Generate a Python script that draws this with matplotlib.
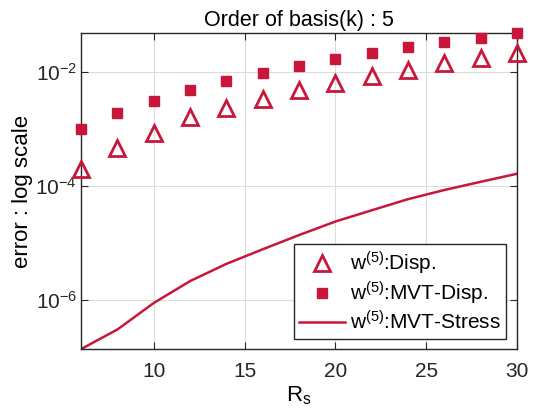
import numpy as np
import matplotlib
matplotlib.use('Agg')
import matplotlib.pyplot as plt
from matplotlib import ticker

plt.rcParams['font.family'] = ['Liberation Sans', 'DejaVu Sans']
plt.rcParams['mathtext.fontset'] = 'custom'
plt.rcParams['mathtext.rm'] = 'Liberation Sans'
plt.rcParams['mathtext.it'] = 'Liberation Sans'

# data
rs = [6, 8, 10, 12, 14, 16, 18, 20, 22, 24, 26, 28, 30]
disp_err = [2.0e-4, 4.5e-4, 8.5e-4, 1.6e-3, 2.3e-3, 3.3e-3, 4.7e-3,
            6.3e-3, 8.3e-3, 1.07e-2, 1.4e-2, 1.73e-2, 2.12e-2]
mvt_disp_err = [1.0e-3, 1.86e-3, 3.06e-3, 4.77e-3, 6.86e-3, 9.5e-3, 1.27e-2,
                1.69e-2, 2.13e-2, 2.67e-2, 3.27e-2, 3.94e-2, 4.77e-2]
mvt_stress_err = [1.36e-7, 3.0e-7, 8.75e-7, 2.12e-6, 4.25e-6, 7.66e-6, 1.36e-5,
                  2.35e-5, 3.7e-5, 5.8e-5, 8.4e-5, 1.17e-4, 1.62e-4]

red = '#C8173A'

fig = plt.figure(figsize=(5.34, 4.19), dpi=100)
ax = fig.add_axes([0.152, 0.167, 0.816, 0.754])

ax.plot(rs, disp_err, linestyle='none', marker='^', markersize=11,
        markerfacecolor='none', markeredgecolor=red, markeredgewidth=2,
        label=r'w$^{(5)}$:Disp.', clip_on=False, zorder=3)
ax.plot(rs, mvt_disp_err, linestyle='none', marker='s', markersize=7,
        color=red, label=r'w$^{(5)}$:MVT-Disp.', clip_on=False, zorder=3)
ax.plot(rs, mvt_stress_err, '-', color=red, linewidth=1.8,
        label=r'w$^{(5)}$:MVT-Stress')

ax.set_yscale('log')
ax.set_xlim(6, 30)
ax.set_ylim(min(mvt_stress_err), max(mvt_disp_err))
ax.set_xticks([10, 15, 20, 25, 30])
ax.set_yticks([1e-6, 1e-4, 1e-2])
ax.yaxis.set_minor_locator(ticker.NullLocator())
ax.yaxis.set_major_formatter(ticker.LogFormatterSciNotation())

ax.grid(True, color='#dcdcdc', linewidth=0.8)
ax.set_axisbelow(True)
for s in ax.spines.values():
    s.set_color('#262626')
    s.set_linewidth(1.0)
ax.tick_params(direction='in', top=True, right=True, labelsize=15,
               length=5, color='#262626', labelcolor='#262626')
ax.tick_params(axis='x', pad=9)
ax.tick_params(axis='y', pad=3)

ax.set_title('Order of basis(k) : 5', fontsize=15.5, pad=5)
ax.set_xlabel(r'R$_\mathrm{s}$', fontsize=16, labelpad=3)
ax.set_ylabel('error : log scale', fontsize=16, labelpad=2)

leg = ax.legend(loc='lower right', fontsize=15, frameon=True, fancybox=False,
                edgecolor='#262626', framealpha=1, borderpad=0.25,
                handlelength=2.2, handletextpad=0.25, labelspacing=0.15,
                borderaxespad=0.5)
leg.get_frame().set_linewidth(1.0)

fig.savefig('out.png', dpi=100)
